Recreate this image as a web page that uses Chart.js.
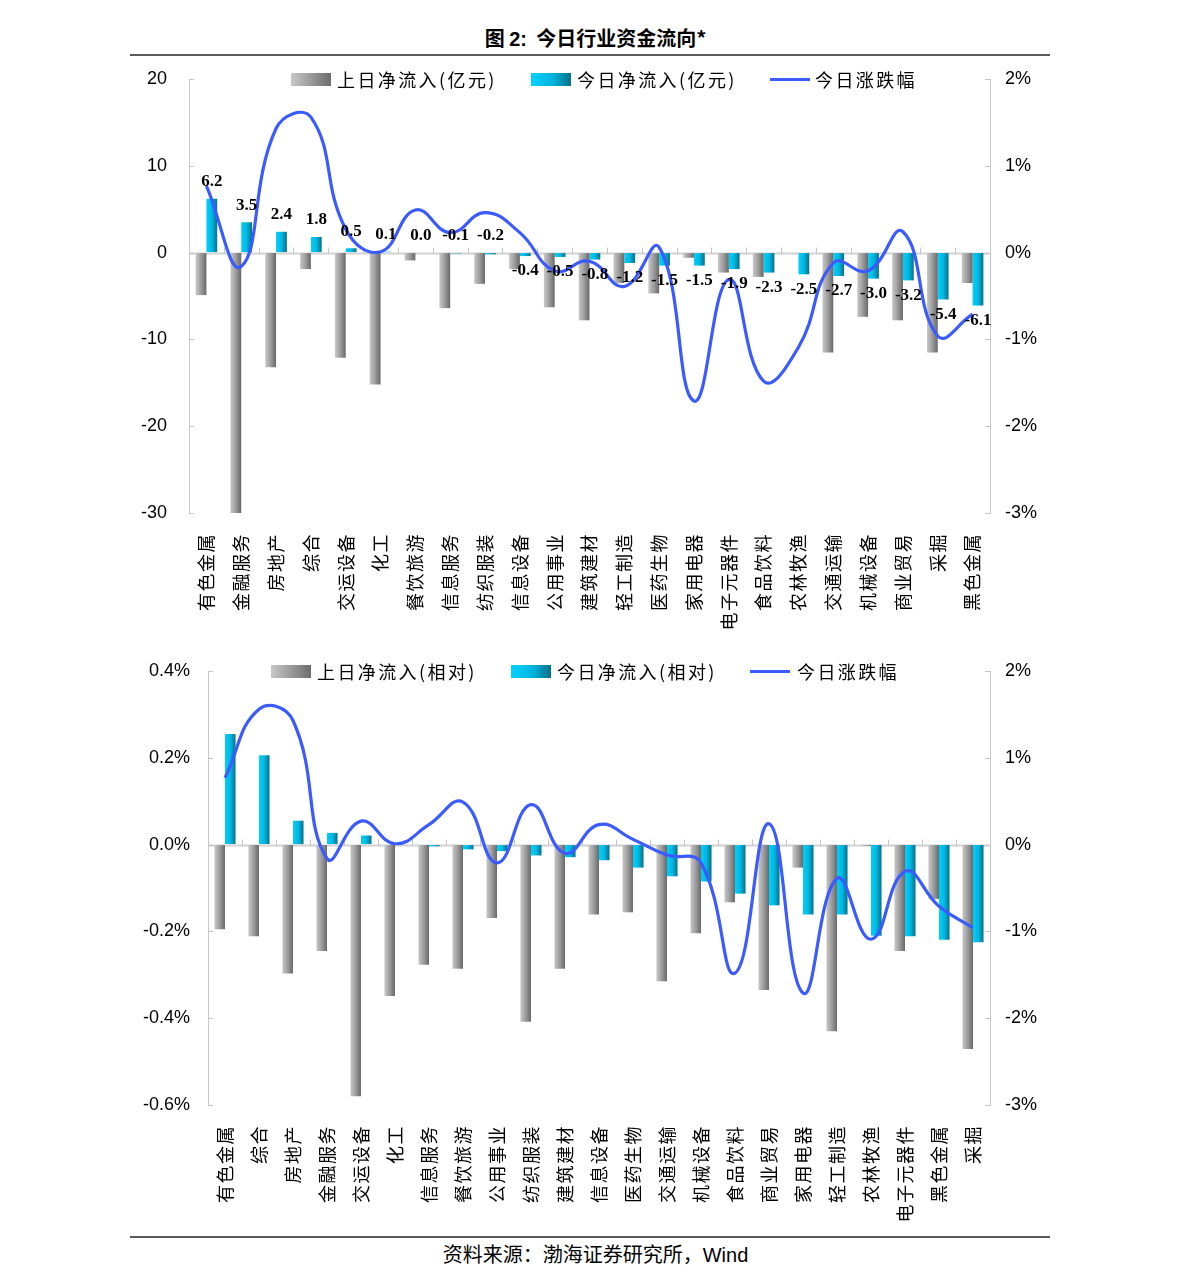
<!DOCTYPE html>
<html lang="zh-CN">
<head>
<meta charset="utf-8">
<title>今日行业资金流向</title>
<script src="https://cdn.jsdelivr.net/npm/chart.js@4.4.1/dist/chart.umd.min.js"></script>
<style>
  html, body { margin:0; padding:0; background:#fff; }
  #page { position:relative; width:1191px; height:1286px; overflow:hidden;
          font-family:"Noto Sans CJK SC", sans-serif; color:#000; }
  .rule { position:absolute; left:130px; width:920px; height:2px; background:#5a5a5a; }
  .title { position:absolute; top:24px; left:0; width:1191px; text-align:center;
           font-size:20px; font-weight:bold; line-height:28px; }
  .lat { font-family:"Liberation Sans", Arial, sans-serif; }
  .source { position:absolute; top:1240px; left:0; width:1191px; text-align:center;
            font-size:20px; line-height:27px; }
  canvas { position:absolute; left:0; }
  .lg { position:absolute; font-size:18px; letter-spacing:2.4px; line-height:22px;
        white-space:nowrap; z-index:2; }
  .sw { position:absolute; width:40px; height:13px; z-index:2; }
  .sw.gray { background:linear-gradient(to right,#c8c8c8,#6c6c6c); }
  .sw.cyan { background:linear-gradient(to right,#00d2ff,#00b4de 55%,#0a6f88); }
  .sw.line { height:3px; background:#3b5bff; }
</style>
</head>
<body>
<div id="page">
  <div class="title">图 <span class="lat">2:</span>&nbsp; 今日行业资金流向*</div>
  <div class="rule" style="top:54px"></div>

  <canvas id="chartTop" width="1191" height="580" style="top:60px"></canvas>
  <div class="sw gray" style="left:291px;top:73px"></div>
  <div class="lg" style="left:337px;top:68px" id="lgTop0"></div>
  <div class="sw cyan" style="left:531px;top:73px"></div>
  <div class="lg" style="left:577px;top:68px" id="lgTop1"></div>
  <div class="sw line" style="left:770px;top:78px"></div>
  <div class="lg" style="left:815px;top:68px" id="lgTop2"></div>

  <canvas id="chartBottom" width="1191" height="580" style="top:650px"></canvas>
  <div class="sw gray" style="left:271px;top:665px"></div>
  <div class="lg" style="left:317px;top:660px" id="lgBot0"></div>
  <div class="sw cyan" style="left:511px;top:665px"></div>
  <div class="lg" style="left:557px;top:660px" id="lgBot1"></div>
  <div class="sw line" style="left:750px;top:670px"></div>
  <div class="lg" style="left:797px;top:660px" id="lgBot2"></div>

  <div class="rule" style="top:1236px"></div>
  <div class="source">资料来源：渤海证券研究所，<span class="lat">Wind</span></div>
</div>

<script>
// ---- 数据：上图（亿元） ----
const catsTop = ['有色金属','金融服务','房地产','综合','交运设备','化工','餐饮旅游','信息服务',
  '纺织服装','信息设备','公用事业','建筑建材','轻工制造','医药生物','家用电器','电子元器件',
  '食品饮料','农林牧渔','交通运输','机械设备','商业贸易','采掘','黑色金属'];
const prevFlowTop  = [-4.9,-30.5,-13.2,-1.9,-12.1,-15.2,-0.9,-6.4,-3.6,-1.9,-6.3,-7.8,
  -3.5,-4.7,-0.6,-2.3,-2.8,-0.05,-11.5,-7.4,-7.8,-11.5,-3.5];
const todayFlowTop = [6.2,3.5,2.4,1.8,0.5,0.1,0.0,-0.1,-0.2,-0.4,-0.5,-0.8,
  -1.2,-1.5,-1.5,-1.9,-2.3,-2.5,-2.7,-3.0,-3.2,-5.4,-6.1];
const changeTop    = [0.77,-0.16,1.43,1.56,0.27,0.01,0.49,0.23,0.46,0.23,-0.21,-0.10,
  -0.39,0.06,-1.71,-0.31,-1.48,-1.09,-0.12,-0.21,0.24,-0.96,-0.71];

// ---- 数据：下图（相对，%） ----
const catsBottom = ['有色金属','综合','房地产','金融服务','交运设备','化工','信息服务','餐饮旅游',
  '公用事业','纺织服装','建筑建材','信息设备','医药生物','交通运输','机械设备','食品饮料',
  '商业贸易','家用电器','轻工制造','农林牧渔','电子元器件','黑色金属','采掘'];
const prevRelBottom  = [-0.195,-0.211,-0.297,-0.245,-0.580,-0.349,-0.277,-0.286,-0.169,-0.408,
  -0.286,-0.161,-0.156,-0.315,-0.204,-0.133,-0.335,-0.053,-0.430,-0.003,-0.245,-0.125,-0.471];
const todayRelBottom = [0.255,0.206,0.055,0.027,0.021,0.001,-0.004,-0.011,-0.015,-0.025,
  -0.029,-0.036,-0.053,-0.073,-0.085,-0.113,-0.140,-0.161,-0.161,-0.210,-0.211,-0.219,-0.225];
const changeBottom   = [0.77,1.56,1.43,-0.16,0.27,0.01,0.23,0.49,-0.21,0.46,-0.10,0.23,
  0.06,-0.12,-0.21,-1.48,0.24,-1.71,-0.39,-1.09,-0.31,-0.71,-0.96];

const legendTop    = ['上日净流入(亿元)','今日净流入(亿元)','今日涨跌幅'];
const legendBottom = ['上日净流入(相对)','今日净流入(相对)','今日涨跌幅'];

legendTop.forEach((t, i) => document.getElementById('lgTop' + i).textContent = t);
legendBottom.forEach((t, i) => document.getElementById('lgBot' + i).textContent = t);

const CAT_PCT = 0.62;
const NUM_FONT = '"Liberation Sans", Arial, sans-serif';
const CJK_FONT = '"Noto Sans CJK SC", sans-serif';

// 柱子横向渐变（左浅右深）
function barFill(stops, side) {
  return c => {
    const chart = c.chart, x = chart.scales.x;
    if (c.type !== 'data' || !x || !isFinite(x.width)) return stops[stops.length - 1];
    const w = x.width / chart.data.labels.length * CAT_PCT / 2;
    const mid = x.getPixelForValue(c.dataIndex);
    const x0 = side ? mid : mid - w;
    const g = chart.ctx.createLinearGradient(x0, 0, x0 + w, 0);
    stops.forEach((col, k) => g.addColorStop(k / (stops.length - 1), col));
    return g;
  };
}
const GRAY = ['#c8c8c8', '#9c9c9c', '#686868'];
const CYAN = ['#00d0fc', '#00b8e2', '#0a6f88'];

// 零轴、刻度线（向内）
const axisMarks = {
  id: 'axisMarks',
  beforeDraw(chart) { chart.ctx.letterSpacing = '1.5px'; },
  beforeDatasetsDraw(chart) {
    const { ctx, chartArea: a, scales } = chart;
    ctx.letterSpacing = '0px';
    const y0 = Math.round(scales.y.getPixelForValue(0)) + 0.5;
    const n = chart.data.labels.length;
    const step = (a.right - a.left) / n;
    ctx.save();
    ctx.strokeStyle = '#d2d2d2';
    ctx.lineWidth = 2;
    ctx.beginPath(); ctx.moveTo(a.left, y0); ctx.lineTo(a.right, y0); ctx.stroke();
    ctx.lineWidth = 1;
    ctx.strokeStyle = '#c4c4c4';
    ctx.beginPath();
    for (let i = 1; i < n; i++) {
      const x = Math.round(a.left + i * step) + 0.5;
      ctx.moveTo(x, y0 - 6); ctx.lineTo(x, y0);
    }
    scales.y.ticks.forEach(t => {
      const y = Math.round(scales.y.getPixelForValue(t.value)) + 0.5;
      ctx.moveTo(a.left, y); ctx.lineTo(a.left + 5, y);
    });
    scales.y1.ticks.forEach(t => {
      const y = Math.round(scales.y1.getPixelForValue(t.value)) + 0.5;
      ctx.moveTo(a.right - 5, y); ctx.lineTo(a.right, y);
    });
    ctx.stroke();
    ctx.restore();
  }
};

// 上图数值标签
const flowLabels = {
  id: 'flowLabels',
  afterDatasetsDraw(chart) {
    const ctx = chart.ctx;
    const meta = chart.getDatasetMeta(1);
    const y0 = chart.scales.y.getPixelForValue(0);
    ctx.save();
    ctx.font = 'bold 17px "Liberation Serif", "Times New Roman", serif';
    ctx.fillStyle = '#000';
    ctx.textAlign = 'center';
    ctx.textBaseline = 'middle';
    meta.data.forEach((bar, i) => {
      const v = todayFlowTop[i];
      const y = v > -0.3 ? Math.min(bar.y, y0) - 17 : bar.y + 15;
      ctx.fillText(v.toFixed(1), bar.x, y);
    });
    ctx.restore();
  }
};

function makeChart(id, cfg) {
  return new Chart(document.getElementById(id), {
    type: 'bar',
    data: {
      labels: cfg.cats,
      datasets: [
        { label: cfg.legend[0], data: cfg.prev, backgroundColor: barFill(GRAY, 0),
          borderWidth: 0, categoryPercentage: CAT_PCT, barPercentage: 1, yAxisID: 'y', order: 1 },
        { label: cfg.legend[1], data: cfg.today, backgroundColor: barFill(CYAN, 1),
          borderWidth: 0, categoryPercentage: CAT_PCT, barPercentage: 1, yAxisID: 'y', order: 1 },
        { type: 'line', label: cfg.legend[2], data: cfg.change, yAxisID: 'y1', order: 0,
          borderColor: '#3b5bff', borderWidth: 3.2, pointRadius: 0, tension: 0.45, fill: false }
      ]
    },
    options: {
      responsive: false,
      animation: false,
      layout: { padding: { top: cfg.areaTop, left: 0, right: 0, bottom: 0 } },
      plugins: { legend: { display: false }, tooltip: { enabled: false } },
      scales: {
        x: {
          grid: { display: false, drawTicks: false },
          border: { display: false },
          ticks: { autoSkip: false, maxRotation: 90, minRotation: 90, padding: 20,
                   color: '#000', font: { family: CJK_FONT, size: 18 } },
          afterFit: s => { s.height = cfg.xHeight; s.paddingLeft = 0; s.paddingRight = 0; }
        },
        y: {
          position: 'left',
          min: cfg.leftMin, max: cfg.leftMax,
          grid: { display: true, drawOnChartArea: false, drawTicks: false },
          border: { display: true, color: '#c8c8c8', width: 1 },
          ticks: { stepSize: cfg.leftStep, padding: cfg.leftPad, color: '#000', z: 1,
                   font: { family: NUM_FONT, size: 18 }, callback: cfg.leftFmt },
          afterFit: s => { s.width = cfg.leftWidth; s.paddingTop = 0; s.paddingBottom = 0; }
        },
        y1: {
          position: 'right',
          min: -3, max: 2,
          grid: { display: true, drawOnChartArea: false, drawTicks: false },
          border: { display: true, color: '#c8c8c8', width: 1 },
          ticks: { stepSize: 1, padding: 15, color: '#000', z: 1,
                   font: { family: NUM_FONT, size: 18 },
                   callback: v => Math.round(v) + '%' },
          afterFit: s => { s.width = 1191 - 990; s.paddingTop = 0; s.paddingBottom = 0; }
        }
      }
    },
    plugins: cfg.labels ? [axisMarks, flowLabels] : [axisMarks]
  });
}

makeChart('chartTop', {
  cats: catsTop, prev: prevFlowTop, today: todayFlowTop, change: changeTop,
  legend: legendTop, labels: true,
  areaTop: 19, xHeight: 580 - 453, leftWidth: 189, leftPad: 22,
  leftMin: -30, leftMax: 20, leftStep: 10,
  leftFmt: v => String(Math.round(v))
});

makeChart('chartBottom', {
  cats: catsBottom, prev: prevRelBottom, today: todayRelBottom, change: changeBottom,
  legend: legendBottom, labels: false,
  areaTop: 21, xHeight: 580 - 455, leftWidth: 208, leftPad: 18,
  leftMin: -0.6, leftMax: 0.4, leftStep: 0.2,
  leftFmt: v => (Math.abs(v) < 1e-9 ? 0 : v).toFixed(1) + '%'
});
</script>
</body>
</html>
